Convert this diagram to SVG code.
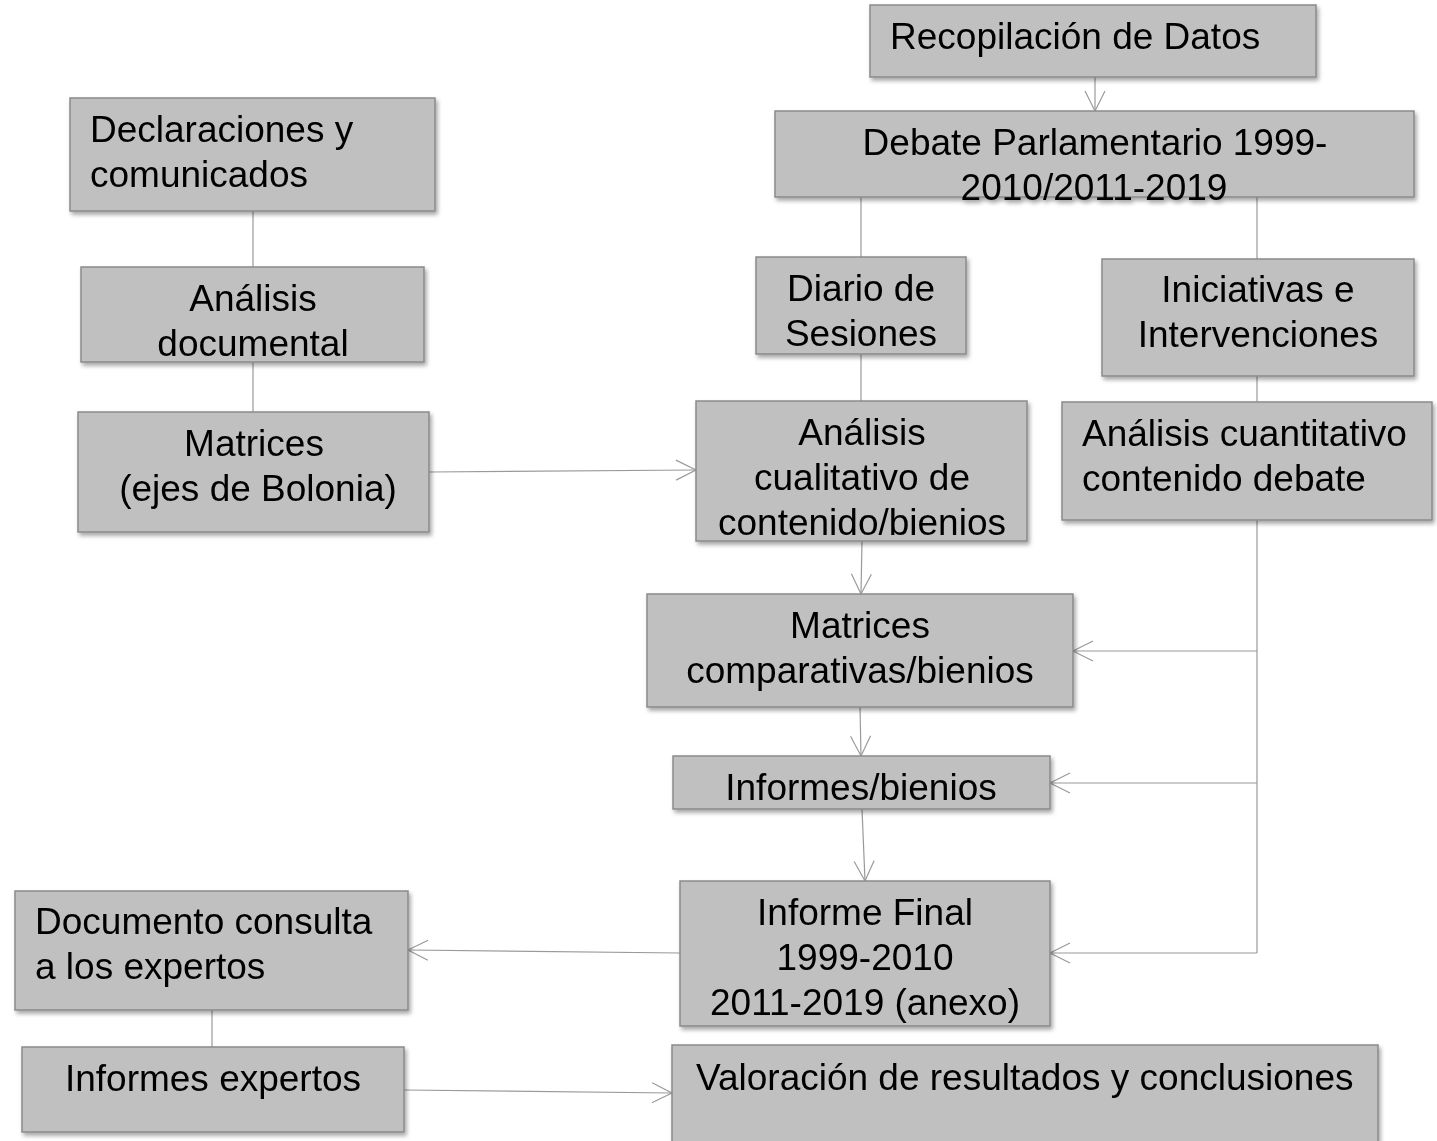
<svg xmlns="http://www.w3.org/2000/svg" width="1437" height="1141" viewBox="0 0 1437 1141">
<style>
.box{fill:#c0c0c0;stroke:#8a8a8a;stroke-width:1.5}
.t{font-family:"Liberation Sans",Arial,sans-serif;font-size:37px;fill:#000}
.c{text-anchor:middle}
.ln{stroke:#9a9a9a;stroke-width:1.2;fill:none}
.ar{marker-end:url(#arr)}
</style>
<defs>
<filter id="sh" x="-10%" y="-10%" width="130%" height="140%">
<feDropShadow dx="2" dy="3" stdDeviation="2" flood-color="#000" flood-opacity="0.35"/>
</filter>
<marker id="arr" markerUnits="userSpaceOnUse" markerWidth="24" markerHeight="24" viewBox="0 0 24 24" refX="22" refY="12" orient="auto">
<path d="M2,2 L22,12 L2,22" fill="none" stroke="#9a9a9a" stroke-width="1.2"/>
</marker>
</defs>
<g id="connectors">
<line class="ln ar" x1="1095" y1="77" x2="1095" y2="111"/>
<line class="ln" x1="253" y1="211" x2="253" y2="267"/>
<line class="ln" x1="253" y1="362" x2="253" y2="412"/>
<line class="ln ar" x1="429" y1="472" x2="696" y2="470"/>
<line class="ln" x1="861" y1="197" x2="861" y2="257"/>
<line class="ln" x1="1257" y1="197" x2="1257" y2="259"/>
<line class="ln" x1="861" y1="354" x2="861" y2="401"/>
<line class="ln" x1="1257" y1="376" x2="1257" y2="402"/>
<line class="ln ar" x1="862" y1="541" x2="861" y2="594"/>
<line class="ln ar" x1="860" y1="707" x2="861" y2="756"/>
<line class="ln ar" x1="862" y1="809" x2="865" y2="881"/>
<polyline class="ln" points="1257,520 1257,953"/>
<line class="ln ar" x1="1257" y1="651" x2="1073" y2="651"/>
<line class="ln ar" x1="1257" y1="783" x2="1050" y2="783"/>
<line class="ln ar" x1="1257" y1="953" x2="1050" y2="953"/>
<line class="ln ar" x1="680" y1="953" x2="408" y2="950"/>
<line class="ln" x1="212" y1="1010" x2="212" y2="1047"/>
<line class="ln ar" x1="404" y1="1090" x2="672" y2="1093"/>
</g>
<g id="recopilacion" filter="url(#sh)">
<rect class="box" x="870" y="5" width="446" height="72"/>
<text class="t" x="890" y="49">Recopilación de Datos</text>
</g>
<g id="debate" filter="url(#sh)">
<rect class="box" x="775" y="111" width="639" height="86"/>
<text class="t c" x="1095" y="155">Debate Parlamentario 1999-</text>
<text class="t c" x="1094" y="200">2010/2011-2019</text>
</g>
<g id="declaraciones" filter="url(#sh)">
<rect class="box" x="70" y="98" width="365" height="113"/>
<text class="t" x="90" y="142">Declaraciones y</text>
<text class="t" x="90" y="187">comunicados</text>
</g>
<g id="analisis-documental" filter="url(#sh)">
<rect class="box" x="81" y="267" width="343" height="95"/>
<text class="t c" x="253" y="311">Análisis</text>
<text class="t c" x="253" y="356">documental</text>
</g>
<g id="matrices-bolonia" filter="url(#sh)">
<rect class="box" x="78" y="412" width="351" height="120"/>
<text class="t c" x="254" y="456">Matrices</text>
<text class="t c" x="258" y="501">(ejes de Bolonia)</text>
</g>
<g id="diario" filter="url(#sh)">
<rect class="box" x="756" y="257" width="210" height="97"/>
<text class="t c" x="861" y="301">Diario de</text>
<text class="t c" x="861" y="346">Sesiones</text>
</g>
<g id="iniciativas" filter="url(#sh)">
<rect class="box" x="1102" y="259" width="312" height="117"/>
<text class="t c" x="1258" y="302">Iniciativas e</text>
<text class="t c" x="1258" y="347">Intervenciones</text>
</g>
<g id="analisis-cualitativo" filter="url(#sh)">
<rect class="box" x="696" y="401" width="331" height="140"/>
<text class="t c" x="862" y="445">Análisis</text>
<text class="t c" x="862" y="490">cualitativo de</text>
<text class="t c" x="862" y="535">contenido/bienios</text>
</g>
<g id="analisis-cuantitativo" filter="url(#sh)">
<rect class="box" x="1062" y="402" width="370" height="118"/>
<text class="t" x="1082" y="446">Análisis cuantitativo</text>
<text class="t" x="1082" y="491">contenido debate</text>
</g>
<g id="matrices-comparativas" filter="url(#sh)">
<rect class="box" x="647" y="594" width="426" height="113"/>
<text class="t c" x="860" y="638">Matrices</text>
<text class="t c" x="860" y="683">comparativas/bienios</text>
</g>
<g id="informes-bienios" filter="url(#sh)">
<rect class="box" x="673" y="756" width="377" height="53"/>
<text class="t c" x="861" y="800">Informes/bienios</text>
</g>
<g id="informe-final" filter="url(#sh)">
<rect class="box" x="680" y="881" width="370" height="145"/>
<text class="t c" x="865" y="925">Informe Final</text>
<text class="t c" x="865" y="970">1999-2010</text>
<text class="t c" x="865" y="1015">2011-2019 (anexo)</text>
</g>
<g id="documento-consulta" filter="url(#sh)">
<rect class="box" x="15" y="891" width="393" height="119"/>
<text class="t" x="35" y="934">Documento consulta</text>
<text class="t" x="35" y="979">a los expertos</text>
</g>
<g id="informes-expertos" filter="url(#sh)">
<rect class="box" x="22" y="1047" width="382" height="85"/>
<text class="t c" x="213" y="1091">Informes expertos</text>
</g>
<g id="valoracion" filter="url(#sh)">
<rect class="box" x="672" y="1045" width="706" height="110"/>
<text class="t" x="696" y="1090">Valoración de resultados y conclusiones</text>
</g>
</svg>
